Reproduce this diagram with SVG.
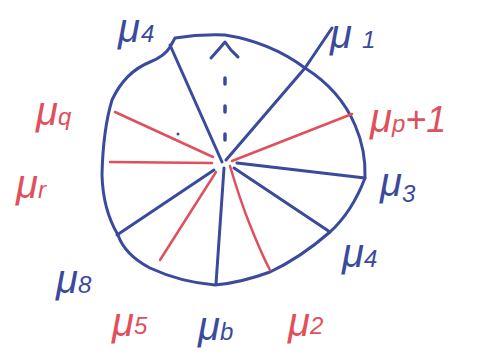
<svg xmlns="http://www.w3.org/2000/svg" width="491" height="356" viewBox="0 0 491 356">
<style>
.b{stroke:#3a4a9c;stroke-width:3;fill:none;stroke-linecap:round;stroke-linejoin:round}
.r{stroke:#e0505c;stroke-width:2.5;fill:none;stroke-linecap:round}
.d{stroke:#3a4a9c;stroke-width:3.5;fill:none;stroke-dasharray:6 22;stroke-linecap:round}
text{font-family:"Liberation Sans","DejaVu Sans",sans-serif;font-style:italic}
.tb{fill:#3a4a9c}.tr{fill:#e0505c}
.m{font-size:40px}.s{font-size:24px}
</style>
<rect width="491" height="356" fill="#fff"/>
<g id="circle">
<path class="b" d="M170,47 L175,38 Q200,34 225,35 Q270,42 305,68 Q340,90 355,125 Q366,150 365,178 Q352,212 330,232 Q300,258 270,272 Q240,283 215,285 Q180,282 150,268 Q125,255 118,235 Q103,210 102,175 Q103,130 112,100 Q125,72 150,62 Q165,56 170,47 Z"/>
</g>
<g id="connectors">
<line class="b" x1="222" y1="162" x2="170" y2="45"/>
<line class="d" x1="225" y1="140" x2="225" y2="60"/>
<path class="b" d="M211,58 Q220,48 225,42 Q230,50 238,57"/>
<line class="b" x1="226" y1="160" x2="305" y2="68"/>
<line class="b" x1="305" y1="68" x2="332" y2="28"/>
<line class="r" x1="232" y1="161" x2="352" y2="114"/>
<line class="b" x1="237" y1="163" x2="365" y2="178"/>
<line class="b" x1="234" y1="168" x2="330" y2="232"/>
<path class="r" d="M230,166 Q240,200 250,225 Q262,255 270,270"/>
<line class="b" x1="224" y1="168" x2="216" y2="284"/>
<line class="r" x1="216" y1="172" x2="160" y2="260"/>
<line class="b" x1="214" y1="170" x2="117" y2="235"/>
<line class="r" x1="212" y1="163" x2="110" y2="162"/>
<line class="r" x1="213" y1="157" x2="115" y2="112"/>
<circle cx="178" cy="134" r="1.5" fill="#3a4a9c"/>
</g>
<g id="mu-n"><text class="tb" x="118" y="42"><tspan class="m">μ</tspan><tspan class="s" dx="1">4</tspan></text></g>
<g id="mu-1"><text class="tb" x="330" y="48"><tspan class="m">μ</tspan><tspan class="s" dx="10" font-size="38px">1</tspan></text></g>
<g id="mu-p1"><text class="tr" x="370" y="132"><tspan class="m">μ</tspan><tspan class="s">p</tspan><tspan font-size="36px">+1</tspan></text></g>
<g id="mu-3"><text class="tb" x="380" y="196"><tspan class="m">μ</tspan><tspan class="s" dy="6">3</tspan></text></g>
<g id="mu-4"><text class="tb" x="342" y="267"><tspan class="m">μ</tspan><tspan class="s" font-size="30px">4</tspan></text></g>
<g id="mu-2"><text class="tr" x="288" y="336"><tspan class="m">μ</tspan><tspan class="s" dy="-2">2</tspan></text></g>
<g id="mu-6"><text class="tb" x="198" y="340"><tspan class="m">μ</tspan><tspan class="s" font-size="30px">b</tspan></text></g>
<g id="mu-5"><text class="tr" x="112" y="336"><tspan class="m">μ</tspan><tspan class="s" dy="-2">5</tspan></text></g>
<g id="mu-8"><text class="tb" x="56" y="293"><tspan class="m">μ</tspan><tspan class="s" font-size="30px">8</tspan></text></g>
<g id="mu-r"><text class="tr" x="16" y="198"><tspan class="m">μ</tspan><tspan class="s">r</tspan></text></g>
<g id="mu-q"><text class="tr" x="36" y="125"><tspan class="m">μ</tspan><tspan class="s" font-size="32px">q</tspan></text></g>
</svg>
